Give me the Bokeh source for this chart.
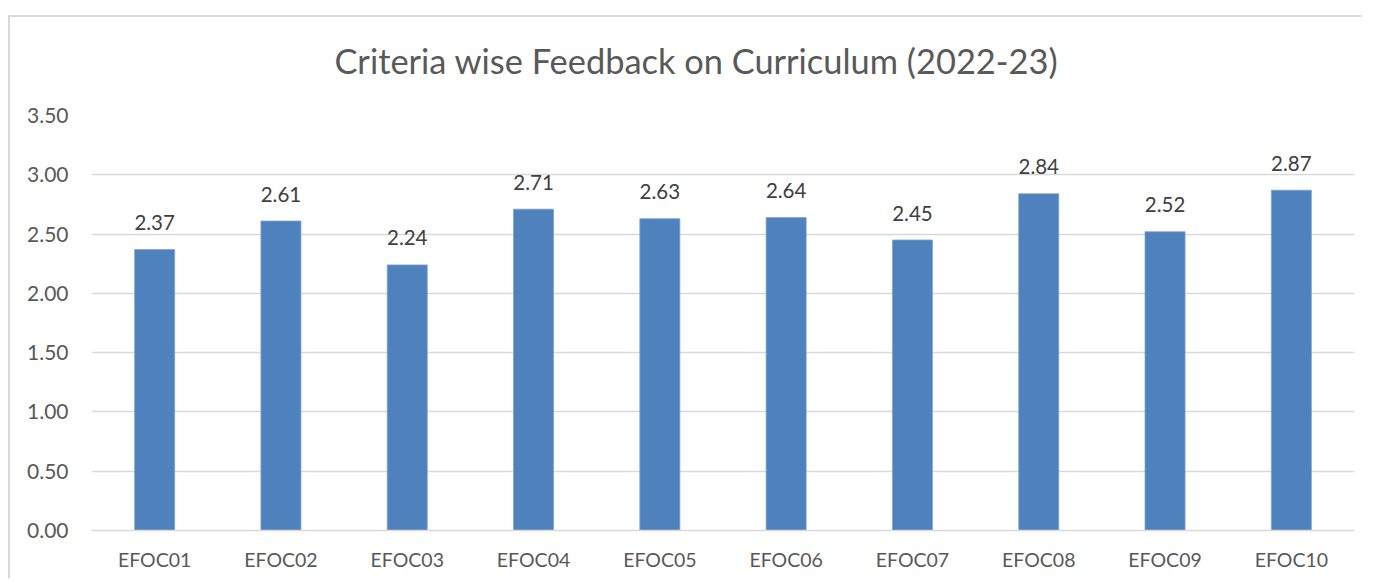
from bokeh.plotting import figure
from bokeh.models import ColumnDataSource, FixedTicker, NumeralTickFormatter
from bokeh.core.properties import value
from bokeh.embed import file_html
from bokeh.resources import INLINE

categories = ["EFOC01", "EFOC02", "EFOC03", "EFOC04", "EFOC05",
              "EFOC06", "EFOC07", "EFOC08", "EFOC09", "EFOC10"]
scores = [2.37, 2.61, 2.24, 2.71, 2.63, 2.64, 2.45, 2.84, 2.52, 2.87]
y_ticks = [0.0, 0.5, 1.0, 1.5, 2.0, 2.5, 3.0, 3.5]
title_text = "Criteria wise Feedback on Curriculum (2022-23)"

FONT = "Lato"

src = ColumnDataSource(dict(cat=categories, val=scores,
                            lbl=["%.2f" % v for v in scores]))

frame_css = ("linear-gradient(#d9d9d9,#d9d9d9) 8px 15px / 100% 2px no-repeat, "
             "linear-gradient(#d9d9d9,#d9d9d9) 8px 15px / 2px 100% no-repeat, "
             "#ffffff")

p = figure(x_range=categories, y_range=(0, 3.5), width=1362, height=578,
           output_backend="svg", toolbar_location=None,
           min_border_left=91, min_border_right=8, min_border_top=115,
           min_border_bottom=48,
           styles={"background": frame_css})
p.border_fill_color = None
p.background_fill_color = "#ffffff"
p.x_range.range_padding = 0
p.outline_line_color = None

p.title.text = title_text
p.title.align = "left"
p.title.offset = 243
p.title.standoff = 69
p.title.text_font = FONT
p.title.text_font_size = "34.4px"
p.title.text_font_style = "normal"
p.title.text_color = "#595959"

p.vbar(x="cat", top="val", width=0.317, source=src,
       fill_color="#4F81BD", line_color="#7fa3cf", line_width=0.8)

p.text(x="cat", y="val", text="lbl", source=src, text_align="center",
       text_baseline="alphabetic", y_offset=-27, text_font=value(FONT),
       text_font_size="20.5px", text_color="#404040")

p.yaxis.ticker = FixedTicker(ticks=y_ticks)
p.yaxis.formatter = NumeralTickFormatter(format="0.00")
p.yaxis.axis_line_color = None
p.yaxis.major_tick_line_color = None
p.yaxis.minor_tick_line_color = None
p.yaxis.major_tick_out = 0
p.yaxis.major_tick_in = 0
p.yaxis.major_label_standoff = 23
p.yaxis.major_label_text_font = FONT
p.yaxis.major_label_text_font_size = "21px"
p.yaxis.major_label_text_color = "#595959"

p.xaxis.axis_line_color = "#d9d9d9"
p.xaxis.axis_line_width = 1.5
p.xaxis.major_tick_line_color = None
p.xaxis.minor_tick_line_color = None
p.xaxis.major_tick_out = 0
p.xaxis.major_tick_in = 0
p.xaxis.major_label_standoff = 17
p.xaxis.major_label_text_font = FONT
p.xaxis.major_label_text_font_size = "19.5px"
p.xaxis.major_label_text_color = "#595959"

p.xgrid.grid_line_color = None
p.ygrid.grid_line_color = "#d9d9d9"
p.ygrid.grid_line_width = 1.5

open("out.html", "w").write(file_html(p, INLINE))
